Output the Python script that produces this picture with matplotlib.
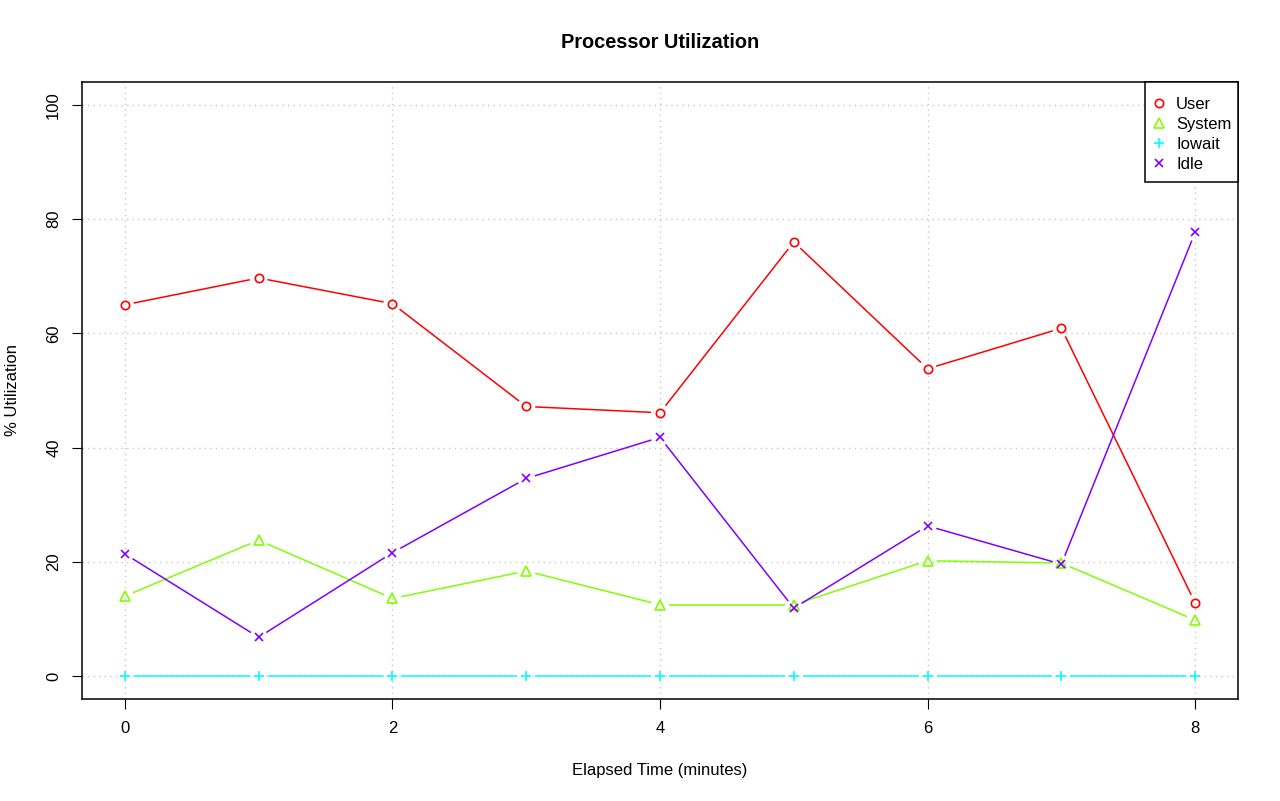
import matplotlib
matplotlib.use("Agg")
import matplotlib.pyplot as plt
import numpy as np
from matplotlib.lines import Line2D
from matplotlib.patches import Rectangle
from matplotlib.transforms import Affine2D

plt.rcParams['font.family'] = ['Liberation Sans', 'DejaVu Sans']

minutes = [0, 1, 2, 3, 4, 5, 6, 7, 8]
user = [65.0, 69.7, 65.2, 47.2, 46.1, 76.0, 53.8, 60.9, 12.8]
system = [14.0, 23.8, 13.6, 18.4, 12.5, 12.5, 20.2, 19.8, 9.8]
iowait = [0, 0, 0, 0, 0, 0, 0, 0, 0]
idle = [21.4, 6.8, 21.6, 34.6, 41.8, 11.9, 26.3, 19.6, 77.7]

series_names = ["User", "System", "Iowait", "Idle"]
series_vals = [user, system, iowait, idle]
colors = ["#FF0000", "#80FF00", "#00FFFF", "#8000FF"]
markers = ["o", "^", "+", "x"]
msizes = {"o": 6, "^": 7.5, "+": 7, "x": 6}

W, H = 1280, 801
fig = plt.figure(figsize=(W / 100, H / 100), dpi=100)
ax = fig.add_axes([82 / W, 1 - 699 / H, (1238 - 82) / W, (699 - 82) / H])
ax.set_xlim(-0.32, 8.32)
ax.set_ylim(-4, 104)

# grid
for gx in [0, 2, 4, 6, 8]:
    ax.axvline(gx, color="#c8c8c8", lw=1.0, ls=(0, (1, 3)), zorder=0)
for gy in [0, 20, 40, 60, 80, 100]:
    ax.axhline(gy, color="#c8c8c8", lw=1.0, ls=(0, (1, 3)), zorder=0)

fig.canvas.draw()
trans = ax.transData
inv = trans.inverted()
gap = 9.0  # pixels

for vals, c, m in zip(series_vals, colors, markers):
    pts = trans.transform(np.column_stack([minutes, vals]))
    for i in range(len(pts) - 1):
        p0, p1 = pts[i], pts[i + 1]
        d = p1 - p0
        L = np.hypot(*d)
        if L <= 2 * gap:
            continue
        u = d / L
        a = inv.transform(p0 + u * gap)
        b = inv.transform(p1 - u * gap)
        ax.plot([a[0], b[0]], [a[1], b[1]], color=c, lw=1.1, zorder=2,
                solid_capstyle="butt")
    ax.plot(minutes, vals, ls="none", marker=m, ms=msizes[m], mfc="none", mec=c,
            mew=1.2, zorder=3)

ax.set_xticks([0, 2, 4, 6, 8])
ax.set_yticks([0, 20, 40, 60, 80, 100])
ax.tick_params(direction="out", length=7, width=0.8, labelsize=12)
ax.tick_params(axis="x", pad=8.5)
ax.tick_params(axis="y", pad=8)
for lab in ax.get_yticklabels():
    lab.set_rotation(90)
    lab.set_va("center")
for s in ax.spines.values():
    s.set_linewidth(1.1)

fig.text(660 / W, 1 - 42 / H, "Processor Utilization", ha="center", va="center",
         fontsize=14.4, fontweight="bold")
fig.text(660 / W, 1 - 770 / H, "Elapsed Time (minutes)", ha="center", va="center",
         fontsize=12)
fig.text(13 / W, 1 - 390 / H, "% Utilization", ha="center", va="center",
         rotation=90, fontsize=12)

# legend drawn in pixel coordinates (top-left origin)
px = Affine2D().scale(1, -1).translate(0, H)
box = Rectangle((1145, 82), 1238 - 1145, 182 - 82, transform=px,
                facecolor="white", edgecolor="black", lw=1.1, zorder=10)
fig.add_artist(box)
for i, (name, m, c) in enumerate(zip(series_names, markers, colors)):
    yy = 103 + 20 * i
    fig.add_artist(Line2D([1159], [yy], transform=px, ls="none", marker=m,
                          ms=msizes[m], mfc="none", mec=c, mew=1.2, zorder=11))
    fig.text(1176, yy, name, transform=px, ha="left", va="center_baseline",
             fontsize=12, zorder=11)

fig.savefig("out.png", dpi=100)
